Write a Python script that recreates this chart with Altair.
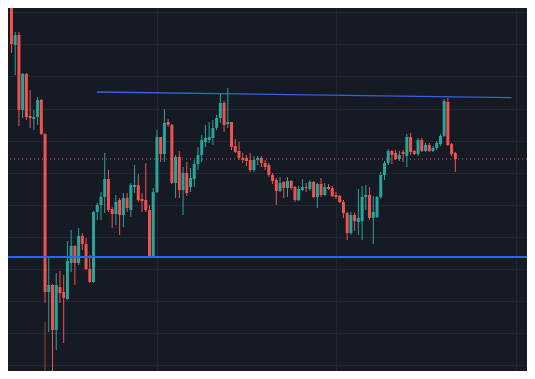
import altair as alt
import pandas as pd

# OHLC candles (arbitrary price units), one per bar, in time order
opens = [460, 440, 420, 355, 365, 290, 326, 284, 281, 283, 300, 266, 108, 115, 70, 113, 108, 101, 137, 154,
         137, 164, 156, 131, 118, 188, 195, 203, 221, 191, 186, 200, 185, 202, 190, 213, 215, 201, 200, 190,
         143, 208, 263, 246, 278, 275, 217, 243, 210, 227, 213, 221, 236, 245, 258, 260, 262, 272, 282, 297,
         276, 278, 254, 249, 242, 242, 240, 230, 240, 242, 237, 235, 225, 220, 209, 218, 212, 219, 213, 200,
         210, 213, 211, 218, 203, 216, 205, 213, 212, 205, 204, 198, 187, 167, 185, 178, 179, 203, 205, 182,
         183, 203, 225, 237, 249, 247, 241, 248, 244, 263, 249, 246, 260, 249, 255, 249, 252, 256, 264, 298,
         256, 247]
highs = [470, 450, 425, 368, 368, 327, 327, 310, 290, 303, 301, 267, 142, 116, 127, 129, 125, 159, 170, 155,
         172, 167, 162, 145, 189, 197, 208, 247, 230, 193, 205, 202, 207, 207, 217, 235, 226, 207, 237, 195,
         212, 270, 263, 291, 281, 276, 245, 249, 233, 238, 232, 240, 253, 265, 275, 278, 280, 285, 307, 299,
         312, 278, 261, 258, 247, 245, 247, 244, 244, 244, 240, 237, 227, 222, 223, 219, 223, 220, 214, 214,
         221, 217, 220, 219, 217, 222, 217, 216, 214, 208, 205, 200, 188, 188, 187, 211, 214, 215, 213, 204,
         204, 228, 239, 251, 250, 250, 249, 250, 266, 267, 250, 262, 262, 257, 257, 254, 259, 266, 301, 302,
         257, 248]
lows = [392, 405, 347, 325, 274, 282, 280, 272, 270, 275, 265, 97, 68, 25, 50, 97, 57, 100, 128, 115,
        135, 150, 130, 117, 117, 180, 180, 187, 188, 172, 175, 165, 173, 188, 183, 207, 198, 188, 188, 142,
        142, 207, 238, 238, 273, 216, 202, 202, 185, 204, 208, 213, 230, 238, 253, 257, 255, 270, 277, 268,
        272, 250, 247, 240, 237, 234, 228, 228, 235, 233, 230, 223, 216, 195, 208, 202, 203, 210, 198, 199,
        209, 208, 209, 202, 192, 203, 204, 210, 203, 201, 197, 182, 160, 165, 169, 165, 160, 190, 180, 156,
        182, 201, 220, 235, 236, 240, 239, 238, 233, 245, 245, 244, 248, 248, 248, 248, 250, 254, 263, 254,
        244, 228]
closes = [403, 415, 356, 365, 290, 326, 283, 282, 283, 300, 266, 108, 115, 70, 115, 107, 102, 139, 154, 137,
          164, 156, 131, 118, 188, 195, 203, 221, 190, 186, 198, 185, 202, 192, 215, 215, 200, 199, 190, 143,
          208, 263, 246, 277, 275, 217, 243, 210, 227, 207, 222, 236, 245, 260, 262, 263, 272, 282, 297, 275,
          278, 253, 248, 242, 240, 239, 230, 240, 242, 237, 233, 225, 219, 209, 217, 212, 219, 212, 200, 211,
          213, 212, 218, 203, 216, 205, 213, 211, 204, 203, 198, 187, 167, 185, 179, 182, 203, 205, 182, 188,
          203, 225, 237, 249, 245, 241, 245, 246, 263, 248, 246, 260, 249, 255, 249, 252, 257, 264, 299, 255,
          246, 241]

# volume bars visible at the bottom (bar index, top value)
vol_idx = [11, 13]
vol_top = [78, 30]

# drawn levels
support_level = 143          # thick blue horizontal line
last_price_level = 241       # dotted red price line
trend_idx = [24.9, 136.1]    # trendline end points (bar index)
trend_price = [308, 302.3]

# gridlines
grid_y = [387.7, 355.6, 323.5, 291.4, 259.3, 227.2, 195.1, 163.0, 130.9, 98.8, 66.7, 34.6]
grid_x = [41, 89.1, 137.3]

UP = "#26a69a"
DOWN = "#ef5350"
BG = "#161a25"
GRID = "#232734"

df = pd.DataFrame({
    "i": list(range(len(opens))),
    "open": opens, "high": highs, "low": lows, "close": closes,
})
df["dir"] = ["up" if c > o else "down" for o, c in zip(opens, closes)]

xs = alt.Scale(domain=[1.07, 140.21], nice=False, zero=False, padding=0)
ys = alt.Scale(domain=[29, 392], nice=False, zero=False, padding=0)
xaxis = alt.Axis(values=grid_x, tickCount=50, labels=False, ticks=False, domain=False, title=None,
                 grid=True, gridColor=GRID, gridWidth=1)
yaxis = alt.Axis(values=grid_y, tickCount=50, labels=False, ticks=False, domain=False, title=None,
                 grid=True, gridColor=GRID, gridWidth=1)
color = alt.Color("dir:N", scale=alt.Scale(domain=["up", "down"], range=[UP, DOWN]), legend=None)

base = alt.Chart(df)

wicks = base.mark_rule(strokeWidth=1, clip=True).encode(
    x=alt.X("i:Q", scale=xs, axis=xaxis),
    y=alt.Y("low:Q", scale=ys, axis=yaxis),
    y2="high:Q",
    color=color,
)
bodies = base.mark_bar(size=3, clip=True).encode(
    x=alt.X("i:Q", scale=xs, axis=xaxis),
    y=alt.Y("open:Q", scale=ys, axis=yaxis),
    y2="close:Q",
    color=color,
)

vol_df = pd.DataFrame({"i": vol_idx, "top": vol_top, "bottom": [0] * len(vol_idx)})
volume = alt.Chart(vol_df).mark_rule(strokeWidth=1.5, color="#7a3232", clip=True).encode(
    x=alt.X("i:Q", scale=xs, axis=xaxis), y=alt.Y("top:Q", scale=ys, axis=yaxis), y2="bottom:Q"
)

support = alt.Chart(pd.DataFrame({"p": [support_level]})).mark_rule(
    color="#2962ff", strokeWidth=2).encode(y=alt.Y("p:Q", scale=ys, axis=yaxis))
price_line = alt.Chart(pd.DataFrame({"p": [last_price_level]})).mark_rule(
    color=DOWN, strokeWidth=1, strokeDash=[1, 3]).encode(y=alt.Y("p:Q", scale=ys, axis=yaxis))
trend = alt.Chart(pd.DataFrame({"i": trend_idx, "p": trend_price})).mark_line(
    color="#3861e0", strokeWidth=1.3, clip=True).encode(
    x=alt.X("i:Q", scale=xs, axis=xaxis), y=alt.Y("p:Q", scale=ys, axis=yaxis))

chart = alt.layer(volume, price_line, wicks, bodies, support, trend).properties(
    width=519, height=363, padding=0, autosize=alt.AutoSizeParams(type="none"),
    background=BG,
).configure_view(strokeWidth=0, fill=BG)

chart.save("out.html", embed_options={"renderer": "svg", "actions": False})
